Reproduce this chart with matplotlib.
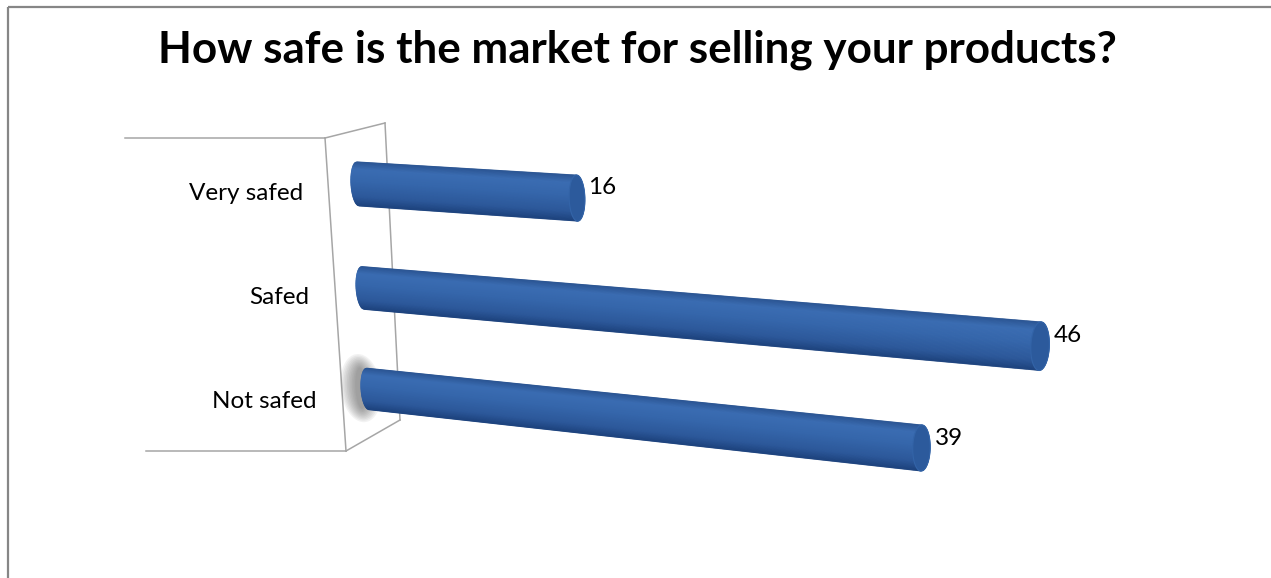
import numpy as np
import matplotlib
matplotlib.use("Agg")
import matplotlib.pyplot as plt
from matplotlib.transforms import Transform, Affine2D
from matplotlib.colors import LinearSegmentedColormap

# survey answers
categories = ["Very safed", "Safed", "Not safed"]
counts = [16, 46, 39]
title = "How safe is the market for selling your products?"

W, H = 1271, 578
FONT = ["Lato", "DejaVu Sans"]


class FloorPerspective(Transform):
    """Projective map from (value, category) to canvas pixels."""
    input_dims = 2
    output_dims = 2
    is_separable = False
    has_inverse = True

    def __init__(self, matrix):
        super().__init__()
        self.matrix = np.asarray(matrix, float)

    def transform_non_affine(self, values):
        pts = np.asarray(values, float).reshape(-1, 2)
        hom = np.column_stack([pts, np.ones(len(pts))]) @ self.matrix.T
        return hom[:, :2] / hom[:, 2:3]

    def inverted(self):
        return FloorPerspective(np.linalg.inv(self.matrix))


fig = plt.figure(figsize=(W / 100, H / 100), dpi=100)
ax = fig.add_axes([0, 0, 1, 1])
ax.set_xlim(0, W)
ax.set_ylim(H, 0)
ax.set_autoscale_on(False)
ax.axis("off")

# slanted 3d floor: value along the bars, category index downwards
floor = FloorPerspective([[12.13, 10.4, 358.0],
                          [0.35, 108.3, 184.0],
                          [-0.0027, 0.0149, 1.0]]) + ax.transData
# category labels sit on the side wall
wall = Affine2D(np.array([[0.0, 6.5, 303.0],
                          [0.0, 104.0, 194.0],
                          [0.0, 0.0, 1.0]])) + ax.transData

# chart frame (cut off at right/bottom)
frame_kw = dict(color="#868686", lw=1.6, solid_capstyle="butt")
ax.plot([7.5, 7.5], [H, 6.5], **frame_kw)
ax.plot([7.5, W], [6.5, 6.5], **frame_kw)

# side wall of the 3d box
wall_kw = dict(color="#A6A6A6", lw=1.1, zorder=1)
ax.plot([125, 325], [138, 138], **wall_kw)
ax.plot([146, 346], [451, 451], **wall_kw)
ax.plot([325, 346], [138, 451], **wall_kw)
ax.plot([385, 400], [123, 420], **wall_kw)
ax.plot([325, 385], [138, 123], **wall_kw)
ax.plot([346, 400], [451, 420], **wall_kw)

# cylinders
BAR_T = 0.42      # tube thickness (category units)
CAP_R = 0.55      # end cap radius (value units)
N_STRIPS = 60
tube = LinearSegmentedColormap.from_list(
    "tube", [(0.0, "#2A5492"), (0.18, "#3A6CB2"), (0.45, "#3566AB"),
             (0.8, "#2C589A"), (1.0, "#1D437E")])

edges = np.linspace(-1, 1, N_STRIPS + 1)
for i, (cat, val) in enumerate(zip(categories, counts)):
    if cat == "Not safed":
        # soft grey glow round the left end
        th = np.linspace(0, 2 * np.pi, 80)
        for k in range(10):
            rx = 0.45 + 0.13 * k
            ry = BAR_T / 2 * (1.0 + 0.07 * k)
            ax.fill(-0.55 + rx * np.cos(th), i + ry * np.sin(th),
                    color="#505050", alpha=0.07, lw=0, transform=floor, zorder=2)

    for t0, t1 in zip(edges[:-1], edges[1:]):
        e0 = CAP_R * np.sqrt(max(0.0, 1 - t0 ** 2))
        e1 = CAP_R * np.sqrt(max(0.0, 1 - t1 ** 2))
        xs = [-e0, val + e0, val + e1, -e1]
        ys = [i + t0 * BAR_T / 2, i + t0 * BAR_T / 2,
              i + t1 * BAR_T / 2, i + t1 * BAR_T / 2]
        col = tube((t0 + t1) / 4 + 0.5)
        ax.fill(xs, ys, color=col, ec=col, lw=0.5, transform=floor, zorder=3)

    # end cap face
    th = np.linspace(0, 2 * np.pi, 100)
    ax.fill(val + CAP_R * np.cos(th), i + BAR_T / 2 * np.sin(th),
            fc="#2C5A9C", ec="#3364A8", lw=0.8, transform=floor, zorder=4)

    ax.text(val + CAP_R + 0.25, i - 0.1, f"{val}", transform=floor,
            ha="left", va="center", fontsize=17.5, family=FONT, zorder=5)
    ax.text(0, i, cat, transform=wall, ha="right", va="center",
            fontsize=17.5, family=FONT, zorder=5)

ax.text(637, 50, title, ha="center", va="center", fontsize=31.7,
        fontweight="bold", family=FONT)

fig.savefig("out.png", dpi=100)
